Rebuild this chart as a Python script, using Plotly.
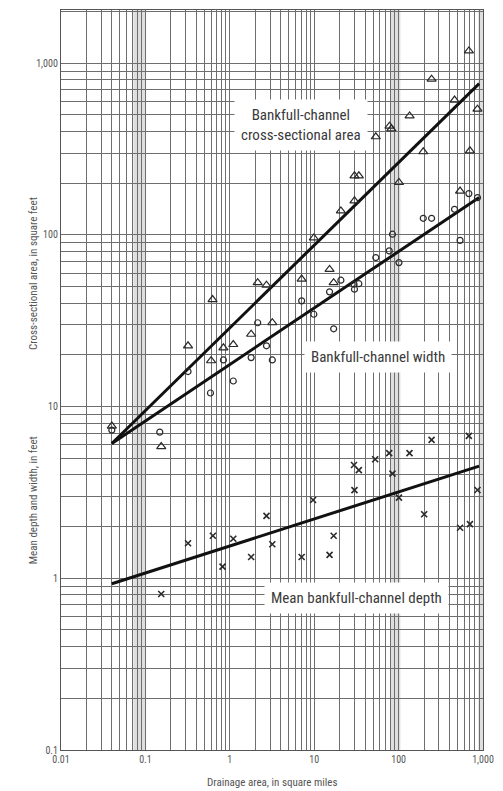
import math
import plotly.graph_objects as go

# ---- data ----
area_x = [0.04, 0.154, 0.32, 0.625, 0.6, 0.84, 1.1, 1.79, 2.14, 2.72, 3.19, 7.1, 9.9, 15.2, 17, 20.7,
          30, 33.8, 30, 53.7, 78, 82, 101, 135, 196, 246, 460, 535, 680, 700, 860]
area_y = [7.7, 5.85, 22.6, 42, 18.5, 22, 23, 26.4, 52.7, 51, 30.8, 55.3, 96, 63, 52.7, 138,
          221, 221, 158, 373, 430, 415, 202, 493, 305, 807, 610, 180, 1180, 309, 540]

width_x = [0.04, 0.148, 0.32, 0.59, 0.84, 1.1, 1.79, 2.14, 2.72, 3.19, 7.1, 9.9, 15.2, 17, 20.7,
           29.6, 30, 33.8, 53.7, 77.4, 84.6, 101, 196, 246, 460, 535, 680, 860]
width_y = [7.3, 7.1, 16, 12, 18.7, 14.1, 19.3, 30.8, 22.6, 18.7, 41.3, 34.5, 46.6, 28.4, 54.5,
           51.6, 48.3, 52, 73.8, 80.7, 101, 69, 125, 125, 141, 93, 174, 165]

depth_x = [0.154, 0.32, 0.63, 0.82, 1.1, 1.79, 2.72, 3.19, 7.1, 9.7, 15.2, 17, 29.6, 33.8, 30,
           52.8, 77.4, 84.6, 101, 134.6, 201, 246, 535, 700, 680, 860]
depth_y = [0.81, 1.6, 1.77, 1.17, 1.70, 1.33, 2.31, 1.58, 1.33, 2.86, 1.37, 1.77, 4.57, 4.27, 3.26,
           4.94, 5.36, 4.07, 2.95, 5.36, 2.36, 6.4, 1.97, 2.07, 6.75, 3.27]

line_x = [0.04, 900]
area_line = [6.1, 760]
width_line = [6.1, 165]
depth_line = [0.93, 4.5]

x_tickvals = [0.01, 0.1, 1, 10, 100, 1000]
x_ticktext = ["0.01", "0.1", "1", "10", "100", "1,000"]
y_tickvals = [0.1, 1, 10, 100, 1000]
y_ticktext = ["0.1", "1", "10", "100", "1,000"]

FONT = "Liberation Sans Narrow, Roboto Condensed, Liberation Sans, Arial, sans-serif"
INK = "#2a2a2a"
GRID = "#6e6e6e"

fig = go.Figure()

for ly in (area_line, width_line, depth_line):
    fig.add_trace(go.Scatter(x=line_x, y=ly, mode="lines",
                             line=dict(color="#111111", width=3), showlegend=False, hoverinfo="skip"))

fig.add_trace(go.Scatter(x=area_x, y=area_y, mode="markers", showlegend=False,
                         marker=dict(symbol="triangle-up-open", size=8, color=INK, line=dict(width=1.2))))
fig.add_trace(go.Scatter(x=width_x, y=width_y, mode="markers", showlegend=False,
                         marker=dict(symbol="circle-open", size=6, color=INK, line=dict(width=1.2))))
fig.add_trace(go.Scatter(x=depth_x, y=depth_y, mode="markers", showlegend=False,
                         marker=dict(symbol="x-thin", size=6, color=INK, line=dict(width=1.6, color=INK))))

def minor_vals(lo, hi):
    out = []
    for e in range(lo, hi):
        for m in range(2, 10):
            out.append(m * 10 ** e)
    return out

# scan-like grey bands
for a, b in [(0.072, 0.102), (79, 105), (880, 1000)]:
    fig.add_shape(type="rect", xref="x", yref="paper", x0=a, x1=b, y0=0, y1=1,
                  fillcolor="#dedede", line=dict(width=0), layer="below")

axis_common = dict(type="log", showline=True, linecolor="#555555", linewidth=1.2, mirror=True,
                   showgrid=True, gridcolor=GRID, gridwidth=1, ticks="", zeroline=False,
                   tickfont=dict(family=FONT, size=10, color="#555555"))

fig.update_xaxes(range=[-2, 3], tickvals=x_tickvals, ticktext=x_ticktext,
                 minor=dict(tickvals=minor_vals(-2, 3), showgrid=True, gridcolor=GRID, gridwidth=1),
                 **axis_common)
fig.update_yaxes(range=[-1, 3.31], tickvals=y_tickvals, ticktext=y_ticktext,
                 minor=dict(tickvals=minor_vals(-1, 4), showgrid=True, gridcolor=GRID, gridwidth=1),
                 **axis_common)

label_font = dict(family=FONT, size=15, color="#3a3a3a")
for x, y, txt in [(0.569, 0.845, "Bankfull-channel<br>cross-sectional area"),
                  (0.75, 0.531, "Bankfull-channel width"),
                  (0.70, 0.205, "Mean bankfull-channel depth")]:
    fig.add_annotation(xref="paper", yref="paper", x=x, y=y, xanchor="center", yanchor="middle",
                       text=txt, showarrow=False, bgcolor="white", borderpad=6, font=label_font)

title_font = dict(family=FONT, size=11, color="#555555")
fig.add_annotation(xref="paper", yref="paper", x=0.5, y=-0.0445,
                   xanchor="center", yanchor="middle",
                   text="Drainage area, in square miles", showarrow=False, font=title_font)
fig.add_annotation(xref="paper", yref="paper", x=-0.065, y=0.644, textangle=-90,
                   xanchor="center", yanchor="middle",
                   text="Cross-sectional area, in square feet", showarrow=False, font=title_font)
fig.add_annotation(xref="paper", yref="paper", x=-0.065, y=0.337, textangle=-90,
                   xanchor="center", yanchor="middle",
                   text="Mean depth and width, in feet", showarrow=False, font=title_font)

fig.update_layout(width=503, height=791, margin=dict(l=61, r=11, t=9, b=41),
                  paper_bgcolor="white", plot_bgcolor="white", showlegend=False)

fig.write_html("out.html", config={"displayModeBar": False},
               post_script="document.body.style.margin='0';document.body.style.overflow='hidden';")
